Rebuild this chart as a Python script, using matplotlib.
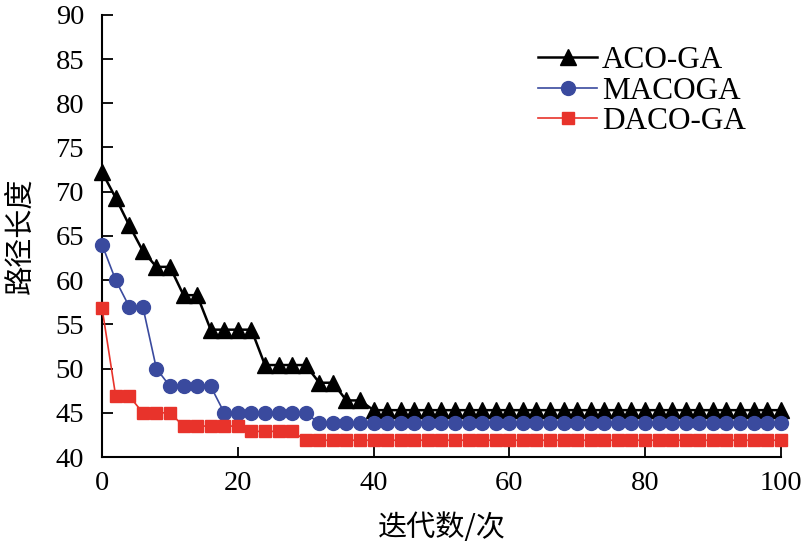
import numpy as np
import matplotlib
matplotlib.use("Agg")
import matplotlib.pyplot as plt

plt.rcParams['font.family'] = ['Liberation Serif', 'Noto Sans CJK SC']

# iterations (every 2nd iteration plotted)
iters = list(range(0, 101, 2))

# ACO-GA path length
aco_ga = [72.2, 69.3, 66.2, 63.3, 61.5, 61.5, 58.3, 58.3, 54.4, 54.4,
          54.4, 54.4, 50.4, 50.4, 50.4, 50.4, 48.4, 48.4, 46.4, 46.4] + [45.3] * 31

# MACOGA path length
macoga = [64.0, 60.0, 57.0, 57.0, 50.0, 48.0, 48.0, 48.0, 48.0, 45.0,
          45.0, 45.0, 45.0, 45.0, 45.0, 45.0] + [43.8] * 35

# DACO-GA path length
daco_ga = [56.8, 46.9, 46.9, 45.0, 45.0, 45.0, 43.5, 43.5, 43.5, 43.5,
           43.5, 42.9, 42.9, 42.9, 42.9] + [41.9] * 36

fig = plt.figure(figsize=(8.04, 5.48), dpi=100)
ax = fig.add_axes([0.127, 0.166, 0.844, 0.807])

ax.plot(iters, aco_ga, color='black', lw=1.8, marker='^', ms=12,
        clip_on=False, label='ACO-GA', zorder=3)
ax.plot(iters, macoga, color='#3a4a9e', lw=1.2, marker='o', ms=10,
        clip_on=False, label='MACOGA', zorder=4)
ax.plot(iters, daco_ga, color='#e8332b', lw=1.2, marker='s', ms=8.5,
        clip_on=False, label='DACO-GA', zorder=5)

ax.set_xlim(0, 100)
ax.set_ylim(40, 90)
ax.set_xticks([0, 20, 40, 60, 80, 100])
ax.set_yticks(np.arange(40, 91, 5))

for s in ['top', 'right']:
    ax.spines[s].set_visible(False)
for s in ['left', 'bottom']:
    ax.spines[s].set_linewidth(1.5)

ax.tick_params(axis='y', direction='in', length=8, width=1.3, labelsize=20.5, pad=13)
ax.tick_params(axis='x', direction='in', length=7, width=1.3, labelsize=20.5, pad=10)

ax.set_xlabel('迭代数/次', fontsize=21, family=['Noto Sans CJK SC'], labelpad=12)
ax.set_ylabel('路径长度', fontsize=21, family=['Noto Sans CJK SC'], labelpad=14)

ax.legend(loc='upper left', bbox_to_anchor=(538 / 804, 1 - 46 / 548),
          bbox_transform=fig.transFigure, frameon=False, fontsize=22.5,
          numpoints=1, handlelength=1.9, handletextpad=0.15,
          labelspacing=0.05, borderpad=0, borderaxespad=0)

fig.savefig('out.png', dpi=100)
